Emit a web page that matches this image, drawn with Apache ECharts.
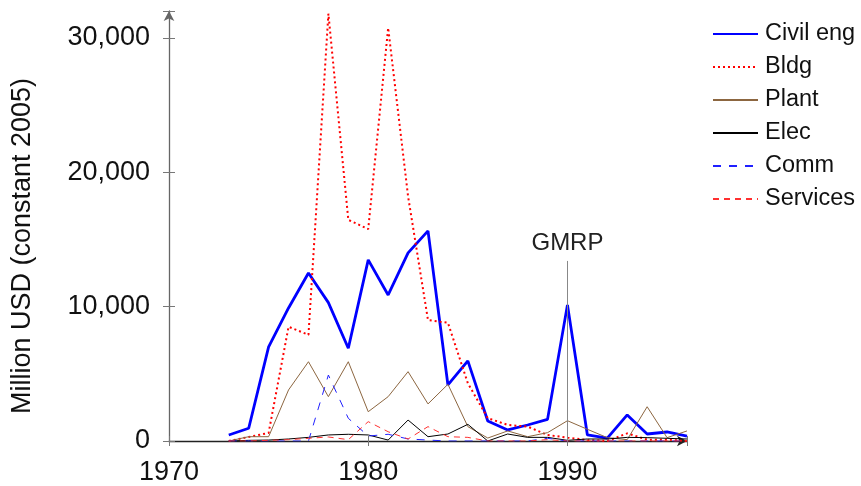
<!DOCTYPE html>
<html>
<head>
<meta charset="utf-8">
<script src="https://cdn.jsdelivr.net/npm/echarts@6/dist/echarts.min.js"></script>
<style>
  html, body { margin: 0; padding: 0; background: #fff; }
  #chart { width: 861px; height: 486px; }
</style>
</head>
<body>
<div id="chart"></div>
<script>
var years = [1973, 1974, 1975, 1976, 1977, 1978, 1979, 1980, 1981, 1982, 1983, 1984,
             1985, 1986, 1987, 1988, 1989, 1990, 1991, 1992, 1993, 1994, 1995, 1996];
var civilEng = [450, 950, 7000, 9900, 12500, 10300, 6900, 13480, 10870, 14000, 15640, 4170,
                5960, 1490, 820, 1190, 1610, 10130, 450, 220, 1940, 520, 670, 370];
var bldg = [0, 300, 600, 8500, 7900, 31800, 16460, 15770, 30750, 18200, 9000, 8800,
            4300, 1700, 1200, 1070, 450, 250, 70, 0, 570, 100, 100, 0];
var plant = [0, 320, 320, 3800, 5900, 3300, 5900, 2180, 3300, 5160, 2760, 4220,
             1070, 220, 750, 320, 620, 1510, 870, 250, 100, 2550, 250, 750];
var elec = [0, 50, 70, 150, 270, 450, 500, 450, 70, 1560, 320, 520,
            1240, 0, 520, 270, 270, 50, 150, 150, 270, 250, 200, 150];
var comm = [0, 0, 0, 0, 0, 4910, 1690, 370, 500, 150, 70, 0,
            0, 0, 0, 0, 200, 0, 0, 0, 0, 0, 0, 0];
var services = [0, 0, 50, 100, 200, 300, 100, 1440, 690, 150, 1070, 320,
                270, 0, 0, 0, 100, 0, 0, 0, 0, 0, 0, 0];
var yTicks = [0, 10000, 20000, 30000];
var xTicks = [1970, 1980, 1990];

function pairs(vals) {
  return years.map(function (y, i) { return [y, vals[i]]; });
}

var font = '"Liberation Sans", Arial, Helvetica, sans-serif';
var chart = echarts.init(document.getElementById('chart'));

function lineSeries(name, vals, color, width, type) {
  return {
    name: name,
    type: 'line',
    data: pairs(vals),
    symbol: 'none',
    showSymbol: false,
    lineStyle: { color: color, width: width, type: type },
    itemStyle: { color: color },
    z: 3
  };
}

var civil = lineSeries('Civil eng', civilEng, '#0000ff', 2.8, 'solid');
civil.markLine = {
  silent: true,
  symbol: ['none', 'none'],
  lineStyle: { color: '#888', width: 1, type: 'solid' },
  label: {
    show: true,
    position: 'start',
    formatter: 'GMRP',
    color: '#222',
    fontSize: 24,
    fontFamily: font,
    distance: 6
  },
  data: [[{ coord: [1990, 13400] }, { coord: [1990, 0] }]]
};

var option = {
  backgroundColor: '#fff',
  animation: false,
  textStyle: { fontFamily: font },
  grid: { left: 169, right: 174, top: 11, bottom: 45, containLabel: false, outerBoundsMode: 'none' },
  legend: {
    orient: 'vertical',
    left: 712,
    top: 22,
    padding: 0,
    itemWidth: 45,
    itemHeight: 14,
    itemGap: 9,
    itemStyle: { opacity: 0 },
    textStyle: { fontSize: 23.5, color: '#111', fontFamily: font, lineHeight: 24, padding: [0, 0, 0, 2] },
    data: ['Civil eng', 'Bldg', 'Plant', 'Elec', 'Comm', 'Services']
  },
  xAxis: [
    {
      type: 'value',
      min: 1970,
      max: 1996,
      interval: 10,
      splitLine: { show: false },
      axisLine: {
        show: true,
        onZero: false,
        symbol: ['none', 'arrow'],
        symbolSize: [8, 10],
        lineStyle: { color: '#222', width: 1.3 }
      },
      axisTick: { show: true, length: 5, lineStyle: { color: '#777' } },
      axisLabel: {
        fontSize: 27,
        color: '#111',
        margin: 18,
        formatter: function (v) { return xTicks.indexOf(v) >= 0 ? String(v) : ''; }
      }
    },
    {
      type: 'value',
      position: 'bottom',
      min: 1970,
      max: 1996,
      interval: 10,
      splitLine: { show: false },
      axisLine: { show: false, onZero: false },
      axisTick: { show: true, inside: true, length: 5, lineStyle: { color: '#777' } },
      axisLabel: { show: false }
    }
  ],
  yAxis: [
    {
      type: 'value',
      min: 0,
      max: 32000,
      interval: 10000,
      name: 'Million USD (constant 2005)',
      nameLocation: 'middle',
      nameGap: 133,
      nameTextStyle: { fontSize: 27, color: '#111', fontFamily: font, padding: [0, 40, 0, 0] },
      splitLine: { show: false },
      axisLine: {
        show: true,
        onZero: false,
        symbol: ['none', 'arrow'],
        symbolSize: [8, 10],
        lineStyle: { color: '#666', width: 1.3 }
      },
      axisTick: { show: true, length: 6, lineStyle: { color: '#777' } },
      axisLabel: {
        fontSize: 27,
        color: '#111',
        margin: 19,
        formatter: function (v) {
          return yTicks.indexOf(v) >= 0 ? v.toLocaleString('en-US') : '';
        }
      }
    },
    {
      type: 'value',
      position: 'left',
      min: 0,
      max: 32000,
      interval: 10000,
      splitLine: { show: false },
      axisLine: { show: false, onZero: false },
      axisTick: { show: true, inside: true, length: 6, lineStyle: { color: '#777' } },
      axisLabel: { show: false }
    }
  ],
  series: [
    civil,
    lineSeries('Bldg', bldg, '#ff0000', 2, [2, 3]),
    lineSeries('Plant', plant, '#8c6640', 1, 'solid'),
    lineSeries('Elec', elec, '#000000', 1, 'solid'),
    lineSeries('Comm', comm, '#2020ff', 1, [8, 8]),
    lineSeries('Services', services, '#ff3030', 1, [6, 5])
  ]
};

chart.setOption(option);
</script>
</body>
</html>
